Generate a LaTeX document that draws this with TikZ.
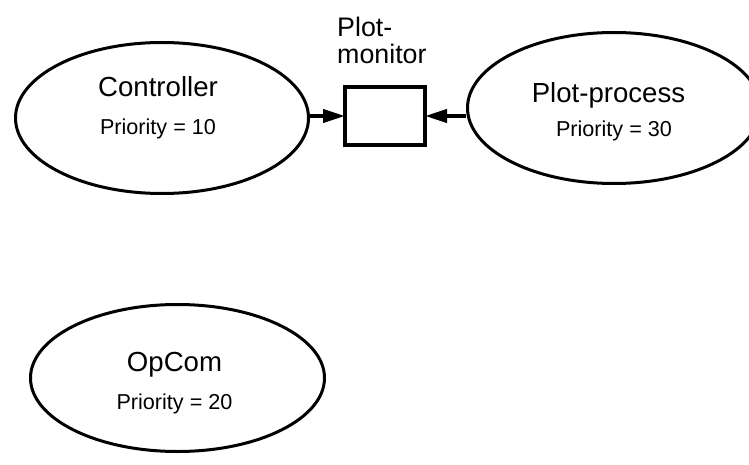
\documentclass[tikz,border=0pt]{standalone}
\usepackage{fontspec}
\setmainfont{Liberation Sans}
\usetikzlibrary{shapes.geometric,arrows.meta}

\begin{document}
\begin{tikzpicture}[x=1pt, y=1pt,
    proc/.style={ellipse, draw, line width=3pt, inner sep=0pt, minimum width=293pt, minimum height=151pt},
    procname/.style={anchor=base, inner sep=0pt, font=\fontsize{27.6}{30}\selectfont},
    procprio/.style={anchor=base, inner sep=0pt, font=\fontsize{21.6}{24}\selectfont},
    arr/.style={-{Triangle[length=22pt, width=13pt]}, line width=4pt}]
      \path[use as bounding box, clip] (0,0) rectangle (749,464);

      % Nodes
      \node[proc] at (162, 346) (ctrl) {};
      \node[proc] at (614, 356) (pp) {};
      \node[proc, minimum width=294pt, minimum height=147pt] at (177.5, 86) (opcom) {};
      \node[draw, line width=4pt, outer sep=0pt, minimum width=80pt, minimum height=58pt] at (385, 348) (mon) {};

      % Texts
      \node[procname] at (158, 367) (ctrlname) {Controller};
      \node[procprio] at (158, 329) (ctrlprio) {Priority = 10};
      \node[procname] at (608.5, 361) (ppname) {Plot-process};
      \node[procprio] at (614, 327) (ppprio) {Priority = 30};
      \node[procname] at (174.5, 93) (opname) {OpCom};
      \node[procprio] at (174.5, 55) (opprio) {Priority = 20};
      \node[anchor=north west, inner sep=0pt, align=left, font=\fontsize{26.8}{27}\selectfont] at (337, 447) (monname) {Plot-\\monitor};

      \draw[arr] (ctrl.east |- mon) -- (mon.west);
      \draw[arr] (pp.west |- mon) -- (mon.east);
    \end{tikzpicture}
\end{document}
